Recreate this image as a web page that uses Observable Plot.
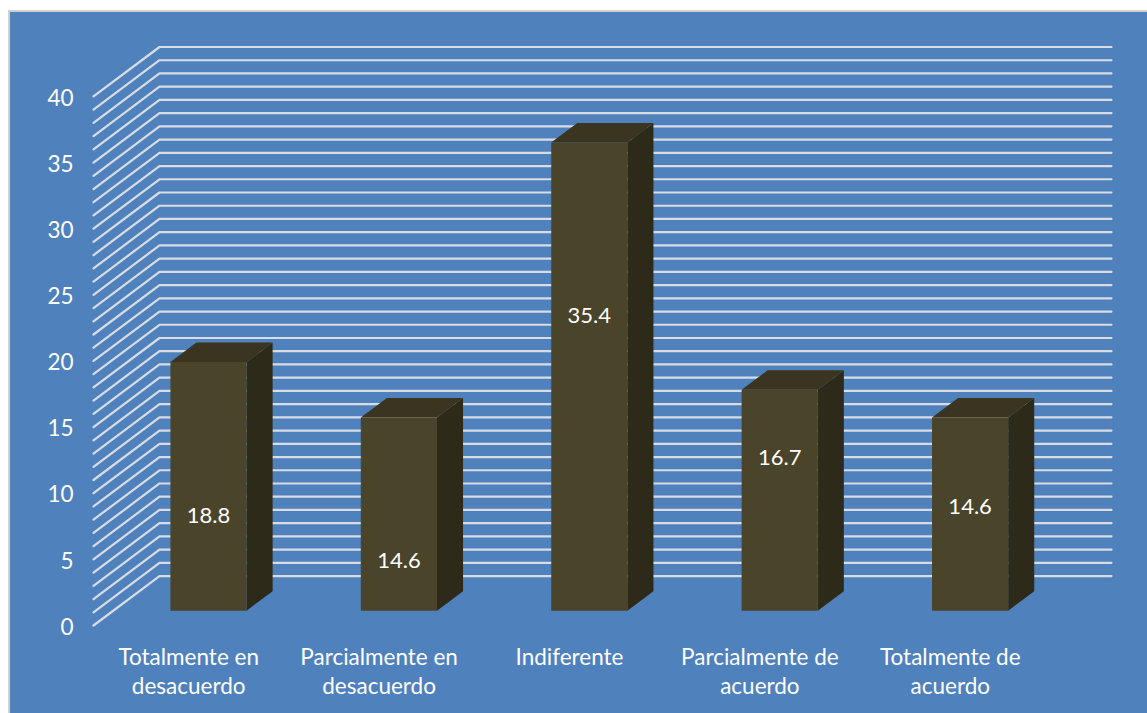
<!DOCTYPE html>
<html><head><meta charset="utf-8">
<script src="https://cdn.jsdelivr.net/npm/d3@7"></script>
<script src="https://cdn.jsdelivr.net/npm/@observablehq/plot@0.6"></script>
<style>
html,body{margin:0;padding:0;background:#fff;overflow:hidden}
#panel{position:absolute;left:8px;top:10px;width:1139px;height:703px;box-sizing:border-box;background:#4f81bd;border:2px solid #d0d0d0;border-right:none;border-bottom:none}
#chart{position:absolute;left:0;top:0}
#chart svg{display:block}
</style></head><body>
<div id="panel"></div><div id="chart"></div>
<script>
const categories = ["Totalmente en\ndesacuerdo","Parcialmente en\ndesacuerdo","Indiferente","Parcialmente de\nacuerdo","Totalmente de\nacuerdo"];
const values = [18.8,14.6,35.4,16.7,14.6];
const valueLabels = ["18.8","14.6","35.4","16.7","14.6"];
const labelLevels = [8.3,4.9,23.4,12.7,9.0];
const yTicks = [0,5,10,15,20,25,30,35,40];
const gridLevels = d3.range(0,41);

// oblique projection: depth d (0 front .. 1 back wall) shifts along both scales
const depthX = 0.3466, depthY = 3.736;
const px = (u,d) => u + d*depthX;
const py = (v,d) => v + d*depthY;
const gap = 0.3, barW = 0.4, dFront = 0.3, dBack = 0.695;

const grid = gridLevels.flatMap(v => [
  {v,x:px(0,0),y:py(v,0)},{v,x:px(0,1),y:py(v,1)},{v,x:px(5,1),y:py(v,1)}]);
const face = (i,pts) => pts.map(([u,v,d]) => ({i,x:px(i+u,d),y:py(v,d)}));
const side = values.flatMap((v,i)=>face(i,[[gap+barW,0,dFront],[gap+barW,0,dBack],[gap+barW,v,dBack],[gap+barW,v,dFront]]));
const top_ = values.flatMap((v,i)=>face(i,[[gap,v,dFront],[gap+barW,v,dFront],[gap+barW,v,dBack],[gap,v,dBack]]));
const front = values.flatMap((v,i)=>face(i,[[gap,0,dFront],[gap+barW,0,dFront],[gap+barW,v,dFront],[gap,v,dFront]]));
const poly = (data,fill)=>Plot.line(data,{x:"x",y:"y",z:"i",fill,stroke:"none",curve:"linear-closed"});

const plot = Plot.plot({
  width:1147,height:713,marginLeft:93,marginRight:36,marginTop:46.5,marginBottom:88,
  style:{background:"transparent",fontFamily:"Lato, sans-serif"},
  x:{domain:[0,5+depthX],range:[93,1111],axis:null},
  y:{domain:[0,40+depthY],range:[625,46.5],axis:null},
  marks:[
    Plot.line(grid,{x:"x",y:"y",z:"v",stroke:"#d9dde3",strokeWidth:2.2}),
    poly(side,"#2e2a1a"),poly(top_,"#3b3421"),poly(front,"#4a442a"),
    Plot.text(values,{x:(d,i)=>px(i+gap+barW/2,dFront),y:(d,i)=>labelLevels[i],text:(d,i)=>valueLabels[i],fill:"#fff",fontSize:22}),
    Plot.axisY({ticks:yTicks,tickSize:0,tickPadding:20,dy:2,label:null,color:"#fff",fontSize:22.5,anchor:"left"}),
    Plot.axisX({ticks:[0.5,1.5,2.5,3.5,4.5],tickFormat:(d,i)=>categories[i],tickSize:0,tickPadding:19,label:null,color:"#fff",fontSize:22.5,lineHeight:1.29,anchor:"bottom"})
  ]
});
document.getElementById("chart").append(plot);
</script></body></html>
